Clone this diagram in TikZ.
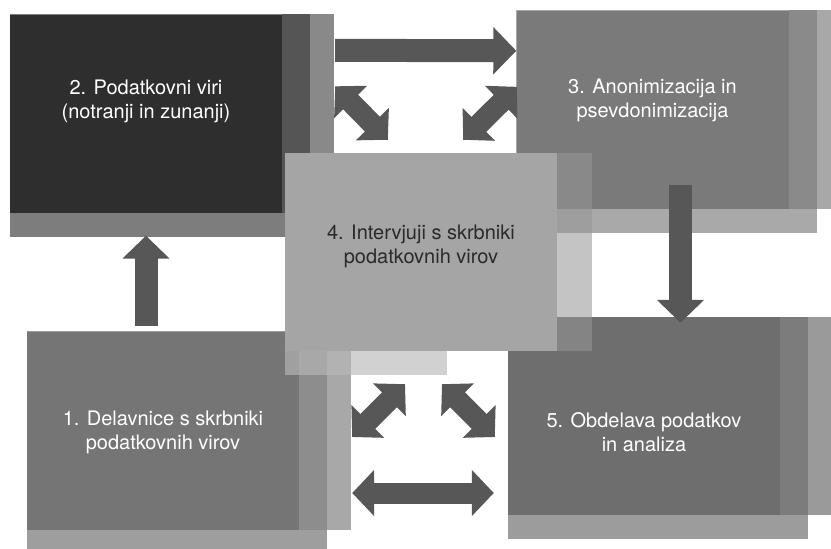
\documentclass[tikz,border=0pt]{standalone}
\usepackage{fontspec}
\setmainfont{TeX Gyre Heros}
\usetikzlibrary{arrows.meta,backgrounds}
\definecolor{front1}{HTML}{757575}
\definecolor{front2}{HTML}{2E2E2E}
\definecolor{front3}{HTML}{7A7A7A}
\definecolor{front4}{HTML}{A5A5A5}
\definecolor{front5}{HTML}{6E6E6E}
\definecolor{lowstrip1}{HTML}{9E9E9E}
\definecolor{lowstrip2}{HTML}{7D7D7D}
\definecolor{lowstrip3}{HTML}{A9A9A9}
\definecolor{lowstrip5}{HTML}{9C9C9C}
\definecolor{midstrip1}{HTML}{8D8D8D}
\definecolor{midstrip2}{HTML}{555555}
\definecolor{midstrip3}{HTML}{8A8A8A}
\definecolor{midstrip5}{HTML}{7C7C7C}
\definecolor{outstrip1}{HTML}{A8A8A8}
\definecolor{outstrip2}{HTML}{898989}
\definecolor{outstrip3}{HTML}{A8A8A8}
\definecolor{outstrip5}{HTML}{9A9A9A}
\definecolor{arrowgray}{HTML}{575757}
\definecolor{darktext}{HTML}{2A2A2A}
\begin{document}
\begin{tikzpicture}[x=1pt,y=-1pt,
    box/.style={rectangle, minimum width=272pt, minimum height=198pt, inner sep=0pt},
    boxtext/.style={align=center, font=\fontsize{20}{24}\selectfont, text=white},
    fatarrow/.style={draw=arrowgray, line width=23pt, -{Triangle[length=23pt,width=46pt]}},
    fatdouble/.style={draw=arrowgray, line width=21pt, {Triangle[length=22pt,width=45pt]}-{Triangle[length=22pt,width=45pt]}}]
    \useasboundingbox (0,0) rectangle (831,549);
    \node [box, fill=front2, label={[boxtext, yshift=12.5pt]center:{2. Podatkovni viri\\(notranji in zunanji)}}] (b2) at (146,113.5) {};
    \node [box, fill=front3, label={[boxtext, yshift=9.5pt]center:{3. Anonimizacija in\\psevdonimizacija}}] (b3) at (652.5,109.5) {};
    \node [box, fill=front1, label={[boxtext, yshift=-1.5pt]center:{1. Delavnice s skrbniki\\podatkovnih virov}}] (b1) at (163,430.5) {};
    \node [box, fill=front5, label={[boxtext, yshift=-16pt]center:{5. Obdelava podatkov\\in analiza}}] (b5) at (644,416) {};
    \begin{scope}[on background layer]
        \foreach \n in {1,2,3,5} {
            \fill [fill=lowstrip\n] (b\n.north west) rectangle ([xshift=28pt,yshift=-24pt]b\n.south east);
            \fill [fill=midstrip\n] (b\n.north east) rectangle ([xshift=28pt]b\n.south east);
            \fill [fill=outstrip\n] ([xshift=28pt]b\n.north east) rectangle ([xshift=52pt]b\n.south east);
        }
    \end{scope}
    \node [box, fill=front4, label={[boxtext, text=darktext, yshift=6pt]center:{4. Intervjuji s skrbniki\\podatkovnih virov}}] (b4) at (421,252) {};
    \fill [fill=black!41, opacity=0.56] (b4.north east) rectangle ([xshift=35pt]b4.south east);
    \fill [fill=black!28, opacity=0.65] (b4.south west) rectangle ([xshift=-110pt,yshift=-24pt]b4.south east);
    \draw [fatarrow] (b2.south |- b1.north) -- (b2.south) [shorten <=5pt, shorten >=23pt];
    \draw [fatarrow] ([xshift=28pt,yshift=24pt]b3.south) -- ([xshift=36.5pt,yshift=-6pt]b5.north);
    \draw [fatarrow] ([xshift=53pt,yshift=-36pt]b2.north east) -- ([yshift=-40.5pt]b3.north west);
    \draw [fatdouble] ([xshift=53pt,yshift=-72pt]b2.north east) -- ([xshift=103pt,yshift=13pt]b4.north west);
    \draw [fatdouble] ([xshift=0.5pt,yshift=-76.5pt]b3.north west) -- ([xshift=-94pt,yshift=13pt]b4.north east);
    \draw [fatdouble] ([xshift=53pt,yshift=-6.5pt]b1.east) -- ([xshift=-16pt,yshift=-33pt]b4.south);
    \draw [fatdouble] ([xshift=21pt,yshift=-33pt]b4.south) -- ([xshift=-13pt,yshift=-21pt]b5.west);
    \draw [fatdouble] ([xshift=53pt,yshift=-62.5pt]b1.east) -- ([xshift=-14pt,yshift=-77pt]b5.west);
\end{tikzpicture}
\end{document}
